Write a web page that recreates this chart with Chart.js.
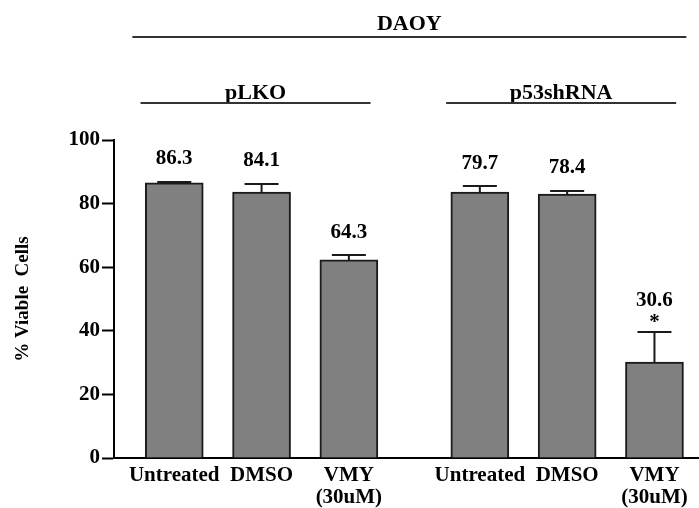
<!DOCTYPE html>
<html><head><meta charset="utf-8">
<script src="https://cdn.jsdelivr.net/npm/chart.js@4"></script>
<style>html,body{margin:0;padding:0;background:#fff}canvas{display:block}</style>
</head><body>
<canvas id="c" width="699" height="508"></canvas>
<script>
const outerTitle = 'DAOY';
const groups = ['pLKO', 'p53shRNA'];
const treatments = ['Untreated', 'DMSO', ['VMY', '(30uM)']];
const viable = [86.5, 83.6, 62.3, 83.6, 83.0, 30.2];
const errUp = [0.3, 2.6, 1.5, 1.9, 1.0, 9.4];
const valueLabels = ['86.3', '84.1', '64.3', '79.7', '78.4', '30.6'];
const significance = ['', '', '', '', '', '*'];
const yTicks = [0, 20, 40, 60, 80, 100];
const yTitle = '% Viable  Cells';

const FONT = '"Liberation Serif", "Times New Roman", serif';
const groupGap = 0.5;
const xPos = groups.flatMap((g, gi) => treatments.map((t, ti) => gi * (treatments.length + groupGap) + ti));
const xLabels = groups.flatMap(() => treatments);

const annot = {
  id: 'annot',
  afterDatasetsDraw(chart) {
    const ctx = chart.ctx;
    const ys = chart.scales.y, xs = chart.scales.x;
    const meta = chart.getDatasetMeta(0);
    ctx.save();
    ctx.strokeStyle = '#1a1a1a';
    ctx.lineWidth = 2;
    ctx.fillStyle = '#000';
    ctx.textAlign = 'center';
    meta.data.forEach((bar, i) => {
      const x = bar.x;
      const yTop = ys.getPixelForValue(viable[i]);
      const yCap = ys.getPixelForValue(viable[i] + errUp[i]);
      ctx.beginPath();
      ctx.moveTo(x, yTop); ctx.lineTo(x, yCap);
      ctx.moveTo(x - 17, yCap); ctx.lineTo(x + 17, yCap);
      ctx.stroke();
      ctx.font = 'bold 21px ' + FONT;
      ctx.textBaseline = 'middle';
      if (significance[i]) {
        ctx.fillText(significance[i], x, yCap - 9);
        ctx.fillText(valueLabels[i], x, yCap - 31);
      } else {
        ctx.fillText(valueLabels[i], x, yCap - 23);
      }
    });
    ctx.textBaseline = 'alphabetic';
    ctx.lineWidth = 2;
    ctx.strokeStyle = '#333';
    const n = treatments.length;
    groups.forEach((g, gi) => {
      const c = (xs.getPixelForValue(xPos[gi * n]) + xs.getPixelForValue(xPos[gi * n + n - 1])) / 2 - 6;
      ctx.font = 'bold 22px ' + FONT;
      ctx.fillText(g, c, 99);
      ctx.beginPath(); ctx.moveTo(c - 115, 103); ctx.lineTo(c + 115, 103); ctx.stroke();
    });
    const cAll = (xs.getPixelForValue(xPos[0]) + xs.getPixelForValue(xPos[xPos.length - 1])) / 2 - 5;
    ctx.font = 'bold 22px ' + FONT;
    ctx.fillText(outerTitle, cAll, 30);
    ctx.beginPath(); ctx.moveTo(cAll - 277, 37); ctx.lineTo(cAll + 277, 37); ctx.stroke();
    ctx.restore();
  }
};

new Chart(document.getElementById('c'), {
  type: 'bar',
  data: {
    datasets: [{
      data: xPos.map((x, i) => ({ x: x, y: viable[i] })),
      backgroundColor: '#808080',
      borderColor: '#1a1a1a',
      borderWidth: 2,
      barThickness: 58
    }]
  },
  options: {
    responsive: false,
    animation: false,
    layout: { padding: { top: 140, left: 0, right: 0, bottom: 0 } },
    plugins: { legend: { display: false }, tooltip: { enabled: false } },
    scales: {
      x: {
        type: 'linear',
        offset: false,
        min: -0.69, max: 6.01,
        afterBuildTicks: s => { s.ticks = xPos.map(v => ({ value: v })); },
        afterFit: s => { s.height = 50; },
        grid: { display: true, drawOnChartArea: false, drawTicks: false, color: '#000' },
        border: { display: true, color: '#000', width: 2 },
        ticks: {
          autoSkip: false, maxRotation: 0, minRotation: 0, padding: 7,
          color: '#000', font: { family: FONT, size: 21, weight: 'bold', lineHeight: 1.05 },
          callback: (v, i) => xLabels[i]
        }
      },
      y: {
        min: 0, max: 100,
        afterBuildTicks: s => { s.ticks = yTicks.map(v => ({ value: v })); },
        afterFit: s => { s.width = 114; },
        grid: { display: true, drawOnChartArea: false, drawTicks: true, tickLength: 12, tickWidth: 2, tickColor: '#000', color: '#000' },
        border: { display: true, color: '#000', width: 2 },
        ticks: { padding: 2, color: '#000', font: { family: FONT, size: 21, weight: 'bold' } },
        title: { display: true, text: yTitle, color: '#000', padding: { top: 12, bottom: 0 }, font: { family: FONT, size: 19, weight: 'bold' } }
      }
    }
  },
  plugins: [annot]
});
</script>
</body></html>
